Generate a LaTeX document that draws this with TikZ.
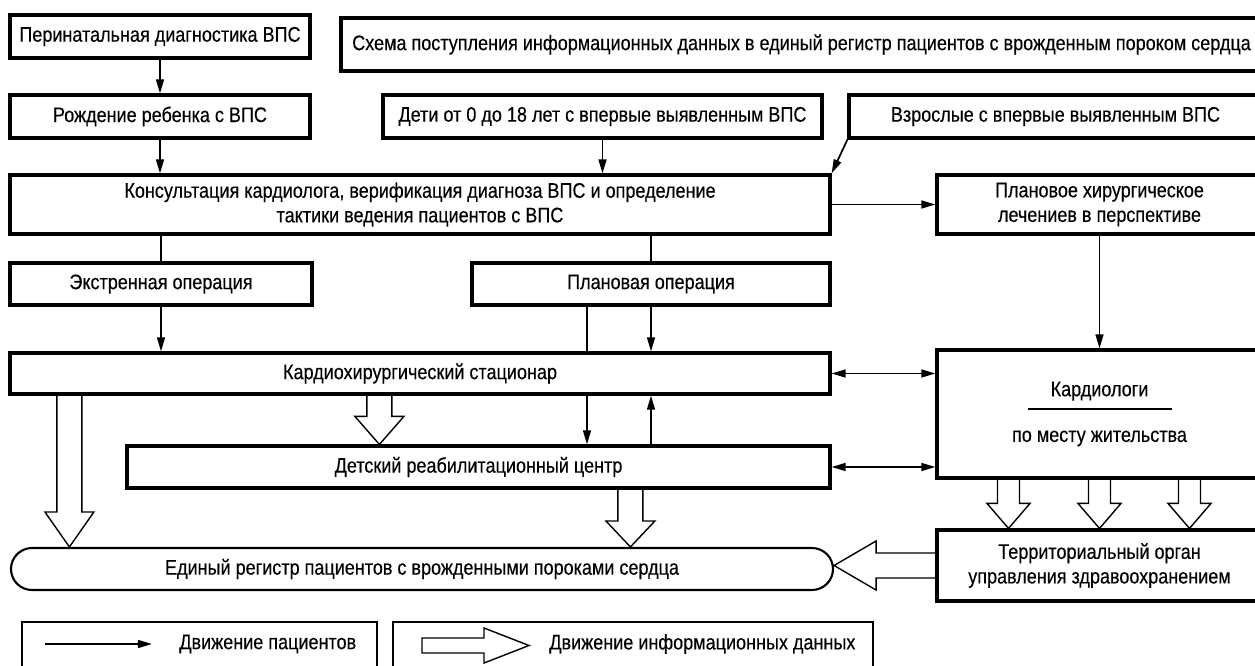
\documentclass[tikz,border=0pt]{standalone}
\usepackage{fontspec}
\setmainfont{Liberation Sans}[FakeStretch=0.855,FakeBold=0.3]
\usetikzlibrary{arrows.meta,calc,positioning}
\newcommand{\diagfont}{\fontsize{12}{14}\selectfont}
\tikzset{
  block/.style={
    draw=black,
    line width=1.8pt,
    align=center,
    font=\diagfont,
    inner sep=2pt
  },
  thinblock/.style={draw=black, line width=1pt, align=center, font=\diagfont, inner sep=2pt},
  registry/.style={thinblock, line width=1.2pt, rounded corners=0.42cm},
  wh/.style 2 args={minimum width=#1*0.02cm, minimum height=#2*0.02cm},
  flow/.style={line width=1pt, -{Triangle[length=8pt,width=4.5pt]}},
  twoway/.style={line width=1pt, {Triangle[length=8pt,width=4.5pt]}-{Triangle[length=8pt,width=4.5pt]}},
  link/.style={line width=1pt},
  infoline/.style={line width=0.8pt, line join=miter},
  legendtext/.style={font=\diagfont, anchor=west, inner sep=0pt}
}
% hollow arrow: [closing] start, tip, shaft half width, head half width, head length
\newcommand{\infoarrow}[6][]{%
  \coordinate (ihead) at ($(#3)!#6!(#2)$);
  \draw[infoline] ($(#2)!#4!90:(#3)$) -- ($(ihead)!#4!90:(#3)$) -- ($(ihead)!#5!90:(#3)$)
    -- (#3) -- ($(ihead)!#5!-90:(#3)$) -- ($(ihead)!#4!-90:(#3)$) -- ($(#2)!#4!-90:(#3)$) #1;
}

\begin{document}
\begin{tikzpicture}[x=0.02cm,y=-0.02cm]
\useasboundingbox (0,0) rectangle (1255,666);

\node[block, wh={300}{43}] (perinat) at (160,36.5) {Перинатальная диагностика ВПС};
\node[block, wh={921}{53}] (title) at (801.5,44.5) {Схема поступления информационных данных в единый регистр пациентов с врожденным пороком сердца};

\node[block, wh={300}{43}] (birth) at (160,116.5) {Рождение ребенка с ВПС};
\node[block, wh={439}{43}] (kids) at (602.5,116.5) {Дети от 0 до 18 лет с впервые выявленным ВПС};
\node[block, wh={413}{43}] (adults) at (1055.5,116.5) {Взрослые с впервые выявленным ВПС};

\node[block, wh={820}{59}] (consult) at (420,204.5) {Консультация кардиолога, верификация диагноза ВПС и определение\\тактики ведения пациентов с ВПС};
\node[block, wh={325}{59}] (plansurg) at (1099.5,204.5) {Плановое хирургическое\\лечениев в перспективе};

\node[block, wh={302}{42}] (emerg) at (161,284) {Экстренная операция};
\node[block, wh={358}{42}] (planop) at (651,284) {Плановая операция};

\node[block, wh={820}{41}] (stat) at (420,373.5) {Кардиохирургический стационар};
\node[block, wh={325}{128}] (cardio) at (1099.5,414) {Кардиологи\\[12pt]по месту жительства};
\node[block, wh={703}{42}] (rehab) at (478.5,467) {Детский реабилитационный центр};

\node[registry, wh={822}{42}] (registry) at (422,569) {Единый регистр пациентов с врожденными пороками сердца};
\node[block, wh={325}{71}] (terr) at (1099.5,565.5) {Территориальный орган\\управления здравоохранением};

\draw[line width=1.2pt] ($(cardio.center)+(-72,-5)$) -- ($(cardio.center)+(72,-5)$);

% patients
\draw[flow] (perinat) -- (birth);
\draw[flow] (birth.south) -- (birth.south |- consult.north);
\draw[flow] (kids.south) -- (kids.south |- consult.north);
\draw[flow] (adults.south west) -- (consult.north east);
\draw[flow] (consult.east) -- (consult.east -| plansurg.west);
\draw[link] (emerg.north |- consult.south) -- (emerg.north);
\draw[link] (planop.north |- consult.south) -- (planop.north);
\draw[flow] (emerg.south) -- (emerg.south |- stat.north);
\coordinate (pass) at ($(planop.south)+(-64,0)$);
\draw[link] (pass) -- (pass |- stat.north);
\draw[flow] (planop.south) -- (planop.south |- stat.north);
\draw[flow] (pass |- stat.south) -- (pass |- rehab.north);
\draw[flow] (planop.south |- rehab.north) -- (planop.south |- stat.south);
\draw[flow] (plansurg) -- (cardio);
\draw[twoway] (stat.east) -- (stat.east -| cardio.west);
\draw[twoway] (rehab.east) -- (rehab.east -| cardio.west);

% data
\coordinate (hs1) at ($(stat.south west)+(61,0)$);
\coordinate (hs2) at ($(stat.south west)+(371,0)$);
\coordinate (hs3) at ($(rehab.south west)+(505,0)$);
\infoarrow{hs1}{hs1 |- registry.north}{0.25cm}{0.49cm}{0.7cm}
\infoarrow{hs2}{hs2 |- rehab.north}{0.25cm}{0.49cm}{0.56cm}
\infoarrow{hs3}{hs3 |- registry.north}{0.25cm}{0.49cm}{0.52cm}
\foreach \dx in {-91,0,90} {
  \coordinate (hc) at ($(cardio.south)+(\dx,0)$);
  \infoarrow{hc}{hc |- terr.north}{0.22cm}{0.43cm}{0.5cm}
}
\infoarrow{terr.west}{terr.west -| registry.east}{0.25cm}{0.49cm}{0.84cm}

% legend
\node[thinblock, wh={355}{68}] (leg1) at (199.5,656) {};
\node[thinblock, wh={480}{68}] (leg2) at (633,656) {};
\coordinate (lp1) at (45,644);
\coordinate (lp2) at (152,644);
\draw[flow] (lp1) -- (lp2);
\node[legendtext] (legpat) at (179,644) {Движение пациентов};
\coordinate (li1) at (422,645.5);
\coordinate (li2) at (529,645.5);
\infoarrow[-- cycle]{li1}{li2}{0.15cm}{0.35cm}{0.9cm}
\node[legendtext] (leginfo) at (549,644) {Движение информационных данных};

\end{tikzpicture}
\end{document}
